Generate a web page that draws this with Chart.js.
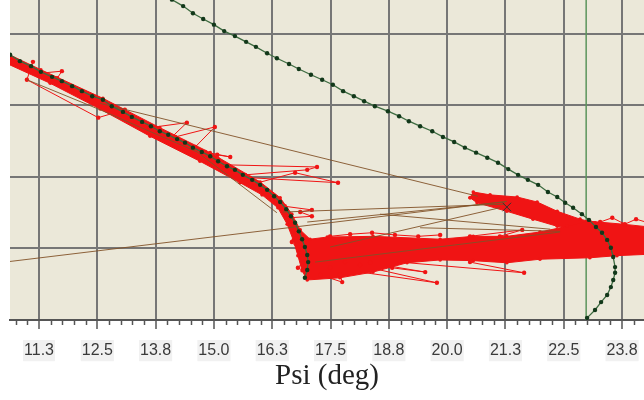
<!DOCTYPE html>
<html>
<head>
<meta charset="utf-8">
<script src="https://cdn.jsdelivr.net/npm/chart.js@4"></script>
<style>
  body { margin: 0; background: #ffffff; }
  canvas { display: block; }
</style>
</head>
<body>
<canvas id="psiChart" width="644" height="400"></canvas>
<script>
// x axis: Psi (deg); y axis has no labels, gridlines at 1..4
const psiTicks = [11.25, 12.5, 13.75, 15.0, 16.25, 17.5, 18.75, 20.0, 21.25, 22.5, 23.75];
const psiTickLabels = ['11.3', '12.5', '13.8', '15.0', '16.3', '17.5', '18.8', '20.0', '21.3', '22.5', '23.8'];

// lower reference curve (green dots)
const lowerPsi = [10.63, 10.84, 11.08, 11.29, 11.53, 11.74, 11.96, 12.17, 12.39, 12.62, 12.81, 13.05, 13.24, 13.46, 13.65, 13.84, 14.02, 14.21, 14.38, 14.55, 14.74, 14.92, 15.09, 15.28, 15.45, 15.62, 15.82, 15.99, 16.14, 16.29, 16.42, 16.55, 16.65, 16.74, 16.82, 16.89, 16.95, 17.00, 17.02, 17.00, 16.95];
const lowerY = [3.71, 3.62, 3.55, 3.47, 3.40, 3.34, 3.27, 3.20, 3.13, 3.08, 2.99, 2.91, 2.84, 2.77, 2.71, 2.64, 2.59, 2.53, 2.48, 2.41, 2.35, 2.29, 2.22, 2.15, 2.10, 2.03, 1.96, 1.89, 1.82, 1.73, 1.65, 1.55, 1.45, 1.36, 1.24, 1.13, 1.02, 0.91, 0.81, 0.70, 0.59];

// upper reference curve (green dots)
const upperPsi = [13.87, 14.10, 14.34, 14.55, 14.77, 15.00, 15.22, 15.45, 15.69, 15.90, 16.14, 16.35, 16.61, 16.82, 17.08, 17.32, 17.55, 17.77, 18.00, 18.22, 18.45, 18.73, 18.97, 19.18, 19.42, 19.68, 19.91, 20.15, 20.38, 20.62, 20.86, 21.09, 21.31, 21.52, 21.73, 21.95, 22.16, 22.36, 22.53, 22.70, 22.89, 23.04, 23.19, 23.32, 23.43, 23.51, 23.56, 23.60, 23.60, 23.56, 23.51, 23.43, 23.30, 23.17, 23.00];
const upperY = [4.56, 4.48, 4.39, 4.29, 4.21, 4.13, 4.04, 3.97, 3.89, 3.82, 3.73, 3.66, 3.58, 3.51, 3.43, 3.36, 3.29, 3.20, 3.13, 3.06, 2.99, 2.92, 2.85, 2.78, 2.71, 2.64, 2.56, 2.49, 2.41, 2.34, 2.27, 2.20, 2.11, 2.03, 1.96, 1.89, 1.79, 1.72, 1.64, 1.57, 1.48, 1.40, 1.30, 1.22, 1.12, 1.01, 0.88, 0.74, 0.66, 0.56, 0.46, 0.35, 0.25, 0.14, 0.03];

// dense red trace: outline of the main band and of the upper cluster
const bandPsi = [10.55, 11.29, 12.62, 13.84, 14.92, 15.99, 16.42, 16.67, 16.85, 17.06, 17.43, 18.41, 19.85, 20.56, 21.28, 21.99, 22.57, 23.06, 23.77, 24.35, 24.35, 23.64, 23.06, 21.99, 21.28, 20.56, 19.85, 19.14, 18.41, 17.70, 17.00, 16.89, 16.80, 16.70, 16.57, 16.37, 16.03, 15.56, 14.70, 13.63, 12.56, 11.49, 10.55];
const bandY = [3.73, 3.50, 3.10, 2.69, 2.34, 1.93, 1.71, 1.48, 1.26, 1.13, 1.16, 1.17, 1.13, 1.17, 1.17, 1.23, 1.31, 1.38, 1.34, 1.30, 0.92, 0.90, 0.87, 0.85, 0.80, 0.83, 0.84, 0.80, 0.67, 0.59, 0.56, 0.69, 0.90, 1.12, 1.34, 1.57, 1.75, 1.92, 2.22, 2.57, 2.95, 3.31, 3.59];
const clusterPsi = [20.49, 20.56, 20.92, 21.50, 21.93, 22.36, 22.85, 23.17, 23.17, 22.85, 22.36, 21.84, 21.28, 20.64, 20.49];
const clusterY = [1.71, 1.79, 1.75, 1.72, 1.65, 1.52, 1.41, 1.36, 1.26, 1.26, 1.31, 1.41, 1.52, 1.64, 1.71];

// red outlier excursions
const spurPsi = [
  [11.27, 11.74, 11.64],
  [11.12, 10.99, 12.52, 13.09],
  [13.63, 14.42, 14.10],
  [14.17, 15.02, 14.60],
  [14.81, 15.35, 15.07, 15.17],
  [15.24, 17.21, 17.00, 15.67],
  [15.77, 17.66, 16.74, 15.95],
  [16.52, 17.10, 16.85, 17.10, 16.63],
  [16.76, 16.67, 16.82],
  [16.91, 16.80, 16.98],
  [17.49, 19.78, 17.81],
  [18.13, 18.82, 19.53, 18.35],
  [18.99, 21.65, 20.49],
  [17.28, 17.75, 17.70],
  [20.49, 21.61, 21.13],
  [23.28, 23.54, 23.81, 24.05, 24.31],
  [17.49, 17.92, 18.39, 18.88, 19.38, 19.85]
];
const spurY = [
  [3.45, 3.48, 3.38],
  [3.61, 3.36, 2.83, 2.94],
  [2.69, 2.76, 2.56],
  [2.56, 2.70, 2.42],
  [2.35, 2.28, 2.31, 2.21],
  [2.17, 2.14, 2.10, 2.03],
  [1.99, 1.92, 2.06, 1.92],
  [1.59, 1.54, 1.51, 1.45, 1.43],
  [1.23, 1.09, 0.98],
  [0.81, 0.73, 0.67],
  [0.73, 0.52, 0.81],
  [0.77, 0.73, 0.67, 0.80],
  [0.81, 0.66, 0.81],
  [0.63, 0.53, 0.64],
  [1.17, 1.26, 1.17],
  [1.37, 1.43, 1.34, 1.41, 1.36],
  [1.17, 1.20, 1.22, 1.19, 1.17, 1.19]
];

// brown jump lines
const brownPsi = [
  [10.52, 21.28],
  [12.56, 20.66],
  [10.99, 12.56, 14.64, 16.35],
  [16.48, 21.24],
  [17.00, 21.24],
  [17.49, 21.13],
  [18.56, 22.21],
  [19.42, 22.42],
  [17.17, 22.42]
];
const brownY = [
  [0.81, 1.66],
  [3.03, 1.73],
  [3.36, 2.94, 2.35, 1.50],
  [1.51, 1.62],
  [1.37, 1.65],
  [1.02, 1.57],
  [1.48, 1.27],
  [1.29, 1.24],
  [0.81, 1.23]
];

const markerPsi = [21.28];
const markerY = [1.58];
const limitPsi = [22.98, 22.98];
const limitY = [0, 4.6];

const RED = '#f01414';
const BROWN = 'rgba(130, 82, 40, 0.9)';

function pts(xs, ys) {
  return xs.map((x, i) => ({ x: x, y: ys[i] }));
}

const datasets = [];

datasets.push({
  data: pts(limitPsi, limitY),
  borderColor: '#5b945b', borderWidth: 1.5, pointRadius: 0, order: 7
});

[[bandPsi, bandY], [clusterPsi, clusterY]].forEach(([xs, ys]) => {
  datasets.push({
    data: pts(xs, ys),
    borderColor: RED, backgroundColor: RED, fill: 'shape', borderWidth: 1,
    pointRadius: 1.8, pointBackgroundColor: RED, pointBorderWidth: 0, order: 6
  });
});

spurPsi.forEach((xs, i) => {
  datasets.push({
    data: pts(xs, spurY[i]),
    borderColor: RED, borderWidth: 1, pointRadius: 2.2,
    pointBackgroundColor: RED, pointBorderWidth: 0, order: 5
  });
});

brownPsi.forEach((xs, i) => {
  datasets.push({
    data: pts(xs, brownY[i]),
    borderColor: BROWN, borderWidth: 1, pointRadius: 0, order: 4
  });
});

[[lowerPsi, lowerY], [upperPsi, upperY]].forEach(([xs, ys]) => {
  datasets.push({
    data: pts(xs, ys),
    borderColor: '#3d6b40', borderWidth: 1.3, pointRadius: 2.2,
    pointBackgroundColor: '#12381a', pointBorderWidth: 0, order: 2
  });
});

datasets.push({
  data: pts(markerPsi, markerY),
  showLine: false, pointStyle: 'crossRot', pointRadius: 6,
  borderColor: '#333333', pointBorderWidth: 1, order: 1
});

datasets.forEach(d => { d.clip = 0; d.tension = 0; });

const plotBg = {
  id: 'plotBg',
  beforeDraw(chart) {
    const { ctx, chartArea: a } = chart;
    ctx.save();
    ctx.fillStyle = '#ebe8d9';
    ctx.fillRect(a.left, a.top, a.right - a.left, a.bottom - a.top);
    ctx.restore();
  }
};

// short ticks every 0.25 deg between the labelled ones
const minorTicks = {
  id: 'minorTicks',
  afterDraw(chart) {
    const { ctx } = chart;
    const x = chart.scales.x;
    ctx.save();
    ctx.strokeStyle = '#555555';
    ctx.lineWidth = 1.5;
    for (let i = 43; i <= 96; i++) {
      if (i % 5 === 0) continue;
      const px = Math.round(x.getPixelForValue(i / 4)) + 0.5;
      if (px < chart.chartArea.left || px > chart.chartArea.right) continue;
      ctx.beginPath();
      ctx.moveTo(px, x.top);
      ctx.lineTo(px, x.top + 5);
      ctx.stroke();
    }
    ctx.restore();
  }
};

new Chart(document.getElementById('psiChart'), {
  type: 'line',
  data: { datasets: datasets },
  options: {
    responsive: false,
    animation: false,
    layout: { autoPadding: false, padding: { left: 10, right: 0, top: 0, bottom: 0 } },
    plugins: { legend: { display: false }, tooltip: { enabled: false } },
    scales: {
      x: {
        type: 'linear',
        min: 10.628,
        max: 24.22,
        afterBuildTicks: s => { s.ticks = psiTicks.map(v => ({ value: v })); },
        afterFit: s => { s.height = 80; s.paddingLeft = 0; s.paddingRight = 0; },
        ticks: {
          callback: (v, i) => psiTickLabels[i],
          color: '#3a3a3a',
          font: { family: 'Liberation Sans, Arial, sans-serif', size: 16 },
          padding: 12,
          maxRotation: 0,
          autoSkip: false,
          showLabelBackdrop: true,
          backdropColor: '#f1f1f1',
          backdropPadding: 1
        },
        grid: { color: '#767676', lineWidth: 2, tickLength: 9, tickColor: '#555555', tickWidth: 1.5 },
        border: { color: '#555555', width: 2 },
        title: {
          display: true,
          text: 'Psi (deg)',
          color: '#222222',
          font: { family: 'Liberation Serif, Times New Roman, serif', size: 29 },
          padding: { top: 0, bottom: 6 }
        }
      },
      y: {
        type: 'linear',
        min: 0,
        max: 4.475,
        afterFit: s => { s.width = 0; s.paddingTop = 0; s.paddingBottom = 0; },
        ticks: { display: false, stepSize: 1, includeBounds: false },
        grid: { color: '#767676', lineWidth: 2, drawTicks: false },
        border: { display: false }
      }
    }
  },
  plugins: [plotBg, minorTicks]
});
</script>
</body>
</html>
